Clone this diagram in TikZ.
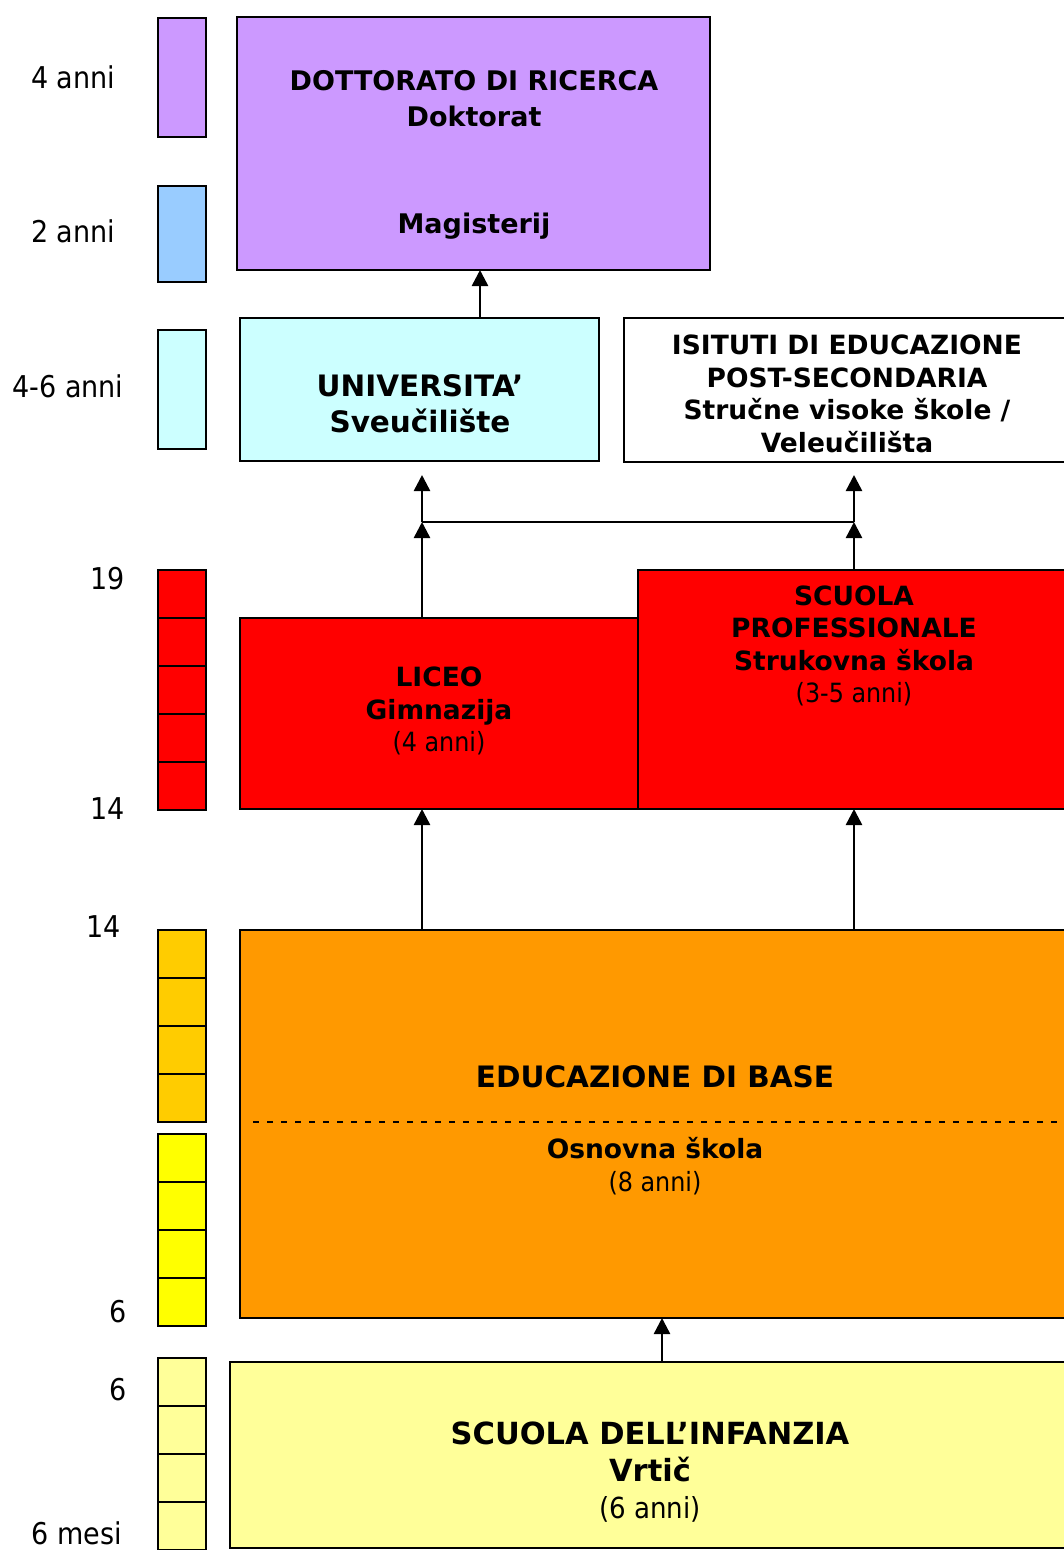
\documentclass[tikz,border=0pt]{standalone}
\usepackage{fontspec}
\setmainfont{DejaVu Sans Condensed}[BoldFont={DejaVu Sans Bold}]
\usetikzlibrary{arrows.meta}
\definecolor{lilla}{HTML}{CC99FF}
\definecolor{azzurro}{HTML}{99CCFF}
\definecolor{celeste}{HTML}{CCFFFF}
\definecolor{rosso}{HTML}{FF0000}
\definecolor{oro}{HTML}{FFCC00}
\definecolor{giallo}{HTML}{FFFF00}
\definecolor{arancio}{HTML}{FF9900}
\definecolor{crema}{HTML}{FFFF99}

\begin{document}
\begin{tikzpicture}[x=1pt,y=-1pt,
    box/.style={draw,line width=2.5pt,anchor=north west,inner sep=0pt,outer sep=0pt},
    cell/.style={box,minimum width=48pt,minimum height=48pt},
    eta/.style={font=\fontsize{30}{36}\selectfont,inner sep=0pt},
    txt/.style={align=center,inner sep=0pt,font=\fontsize{26.5}{32.5}\selectfont},
    arr/.style={line width=2.5pt,-{Triangle[width=16pt,length=16pt]}}]
    \useasboundingbox (0,0) rectangle (1064,1550);
    \node[box,fill=lilla,minimum width=473pt,minimum height=253pt] (doc) at (237,17) {};
    \node[box,fill=celeste,minimum width=359pt,minimum height=143pt] (univ) at (240,318) {};
    \node[box,fill=white,minimum width=460pt,minimum height=144pt] (isit) at (624,318) {};
    \node[box,fill=rosso,minimum width=398pt,minimum height=191pt] (liceo) at (240,618) {};
    \node[box,fill=rosso,minimum width=446pt,minimum height=239pt] (prof) at (638,570) {};
    \node[box,fill=arancio,minimum width=844pt,minimum height=388pt] (base) at (240,930) {};
    \node[box,fill=crema,minimum width=854pt,minimum height=186pt] (inf) at (230,1362) {};

    \node[box,fill=lilla,minimum width=48pt,minimum height=119pt] (sdoc) at (158,18) {};
    \node[box,fill=azzurro,minimum width=48pt,minimum height=96pt] (smag) at (158,186) {};
    \node[box,fill=celeste,minimum width=48pt,minimum height=119pt] (suni) at (158,330) {};
    \node[cell,fill=rosso] (r1) at (158,570) {};
    \node[cell,fill=rosso] (r2) at (158,618) {};
    \node[cell,fill=rosso] (r3) at (158,666) {};
    \node[cell,fill=rosso] (r4) at (158,714) {};
    \node[cell,fill=rosso] (r5) at (158,762) {};
    \node[cell,fill=oro] (o1) at (158,930) {};
    \node[cell,fill=oro] (o2) at (158,978) {};
    \node[cell,fill=oro] (o3) at (158,1026) {};
    \node[cell,fill=oro] (o4) at (158,1074) {};
    \node[cell,fill=giallo] (y1) at (158,1134) {};
    \node[cell,fill=giallo] (y2) at (158,1182) {};
    \node[cell,fill=giallo] (y3) at (158,1230) {};
    \node[cell,fill=giallo] (y4) at (158,1278) {};
    \node[cell,fill=crema] (l1) at (158,1358) {};
    \node[cell,fill=crema] (l2) at (158,1406) {};
    \node[cell,fill=crema] (l3) at (158,1454) {};
    \node[cell,fill=crema] (l4) at (158,1502) {};

    \node[eta] (e1) at (73,77) {4 anni};
    \node[eta] (e2) at (73,231) {2 anni};
    \node[eta] (e3) at (68,386) {4-6 anni};
    \node[eta] (e4) at (108,579) {19};
    \node[eta] (e5) at (108,809) {14};
    \node[eta] (e6) at (104,927) {14};
    \node[eta] (e7) at (118,1312) {6};
    \node[eta] (e8) at (118,1390) {6};
    \node[eta] (e9) at (77,1533) {6 mesi};

    \node[txt,font=\fontsize{27}{36}\selectfont\bfseries] (tdoc) at (474,99) {DOTTORATO DI RICERCA\\Doktorat};
    \node[txt,font=\fontsize{27}{36}\selectfont\bfseries] (tmag) at (474,226) {Magisterij};
    \node[txt,font=\fontsize{29.5}{36}\selectfont\bfseries] (tuniv) at (420,404) {UNIVERSITA’\\Sveučilište};
    \node[txt,font=\fontsize{26.5}{32.5}\selectfont\bfseries] (tisit) at (847,394) {ISITUTI DI EDUCAZIONE\\POST-SECONDARIA\\Stručne visoke škole /\\Veleučilišta};
    \node[txt] (tliceo) at (439,711) {\textbf{LICEO}\\\textbf{Gimnazija}\\(4 anni)};
    \node[txt] (tprof) at (854,646) {\textbf{SCUOLA}\\\textbf{PROFESSIONALE}\\\textbf{Strukovna škola}\\(3-5 anni)};
    \node[txt,font=\fontsize{29.5}{33}\selectfont\bfseries] (tbase) at (655,1077) {EDUCAZIONE DI BASE};
    \node[txt] (tosn) at (655,1166) {\textbf{Osnovna škola}\\(8 anni)};
    \node[txt,font=\fontsize{30.5}{37}\selectfont] (tinf) at (650,1472) {\textbf{SCUOLA DELL’INFANZIA}\\\textbf{Vrtič}\\{\fontsize{29}{37}\selectfont(6 anni)}};

    \coordinate (dl) at (253,1122);
    \draw[line width=2.5pt,dash pattern=on 6pt off 8pt] (dl) -- (dl -| base.east);

    \coordinate (ux) at (480,0);
    \coordinate (ja) at (422,522);
    \coordinate (jb) at (854,522);
    \coordinate (ta) at (422,475);
    \coordinate (tb) at (854,475);
    \coordinate (xc) at (662,0);
    \draw[arr] (univ.north -| ux) -- (doc.south -| ux);
    \draw[arr] (liceo.north -| ja) -- (ja);
    \draw[arr] (ja) -- (ta);
    \draw[line width=2.5pt] (ja) -- (jb);
    \draw[arr] (prof.north -| jb) -- (jb);
    \draw[arr] (jb) -- (tb);
    \draw[arr] (base.north -| ja) -- (liceo.south -| ja);
    \draw[arr] (base.north -| jb) -- (prof.south -| jb);
    \draw[arr] (inf.north -| xc) -- (base.south -| xc);
\end{tikzpicture}
\end{document}
